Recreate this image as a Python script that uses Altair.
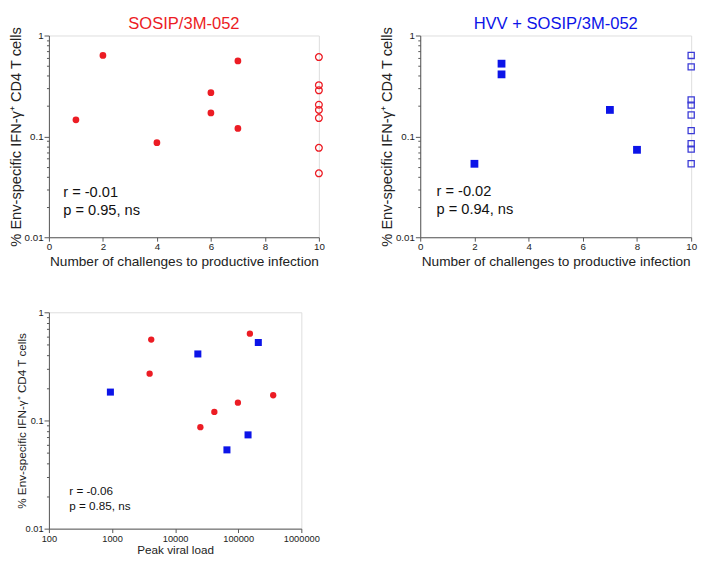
import altair as alt
import pandas as pd

# ---------------- data ----------------
# Panel 1: SOSIP/3M-052 — infected (filled) and uninfected after 10 challenges (open)
sosip_inf_challenges = [1, 2, 4, 6, 6, 7, 7]
sosip_inf_ifng = [0.146, 0.634, 0.0867, 0.271, 0.171, 0.560, 0.120]
sosip_uninf_challenges = [10, 10, 10, 10, 10, 10, 10, 10]
sosip_uninf_ifng = [0.611, 0.322, 0.286, 0.206, 0.183, 0.152, 0.077, 0.043]

# Panel 2: HVV + SOSIP/3M-052
hvv_inf_challenges = [2, 3, 3, 7, 8]
hvv_inf_ifng = [0.0535, 0.526, 0.412, 0.183, 0.0736]
hvv_uninf_challenges = [10, 10, 10, 10, 10, 10, 10, 10, 10]
hvv_uninf_ifng = [0.635, 0.489, 0.230, 0.204, 0.163, 0.114, 0.0847, 0.0748, 0.0535]

# Panel 3: peak viral load vs response
sosip_peak_vl = [4180, 3940, 153000, 358000, 98800, 41800, 25100]
sosip_peak_ifng = [0.560, 0.271, 0.634, 0.171, 0.146, 0.120, 0.0867]
hvv_peak_vl = [942, 22900, 208000, 143000, 66200]
hvv_peak_ifng = [0.183, 0.412, 0.526, 0.0736, 0.0535]

# stats annotations
stats1 = ["r = -0.01", "p = 0.95, ns"]
stats2 = ["r = -0.02", "p = 0.94, ns"]
stats3 = ["r = -0.06", "p = 0.85, ns"]

titles = ["SOSIP/3M-052", "HVV + SOSIP/3M-052"]
y_title = "% Env-specific IFN-γ⁺ CD4 T cells"
x_title_challenges = "Number of challenges to productive infection"
x_title_vl = "Peak viral load"

y_tick_values = [0.01, 0.02, 0.03, 0.04, 0.05, 0.06, 0.07, 0.08, 0.09,
                 0.1, 0.2, 0.3, 0.4, 0.5, 0.6, 0.7, 0.8, 0.9, 1]
x_tick_challenges = [0, 2, 4, 6, 8, 10]
x_tick_vl = [100, 1000, 10000, 100000, 1000000]

# ---------------- styling ----------------
FONT = "Liberation Sans"
RED = "#ec1c24"
BLUE = "#0c14e8"
BLUE_OPEN = "#3a3ad6"
AX = "#555555"
TXT = "#222222"

MAJOR_TEST = "datum.value == 1 || datum.value == 0.1 || datum.value == 0.01"


def y_axis(title_size, label_size, title_pad):
    return alt.Axis(
        title=y_title, values=y_tick_values,
        labelExpr="datum.value == 1 ? '1' : datum.value == 0.1 ? '0.1' : datum.value == 0.01 ? '0.01' : ''",
        tickSize={"condition": {"test": MAJOR_TEST, "value": 5}, "value": 2.5},
        labelOverlap=False, grid=False, domainColor=AX, tickColor=AX,
        labelColor=TXT, labelFont=FONT, labelFontSize=label_size, labelPadding=1,
        titleFont=FONT, titleFontSize=title_size, titleFontWeight="normal",
        titleColor=TXT, titlePadding=title_pad,
    )


def x_axis(title, values, label_size, title_size, title_pad, fmt=None):
    kw = dict(
        title=title, values=values, grid=False, domainColor=AX, tickColor=AX,
        tickSize=4, labelColor=TXT, labelFont=FONT, labelFontSize=label_size,
        labelPadding=1, labelOverlap=False, labelFlush=False,
        titleFont=FONT, titleFontSize=title_size, titleFontWeight="normal",
        titleColor=TXT, titlePadding=title_pad,
    )
    if fmt:
        kw["format"] = fmt
    return alt.Axis(**kw)


y_scale = alt.Scale(type="log", domain=[0.01, 1], nice=False)
x_scale_ch = alt.Scale(domain=[0, 10], nice=False, zero=False)
x_scale_vl = alt.Scale(type="log", domain=[100, 1000000], nice=False)


def stats_layer(lines, xs, ys, size):
    df = pd.DataFrame({"x": xs, "y": ys, "t": lines})
    return alt.Chart(df).mark_text(
        align="left", baseline="middle", font=FONT, fontSize=size, color="#111111"
    ).encode(x="x:Q", y="y:Q", text="t:N")


# ---------------- panel 1 ----------------
df1a = pd.DataFrame({"x": sosip_inf_challenges, "y": sosip_inf_ifng})
df1b = pd.DataFrame({"x": sosip_uninf_challenges, "y": sosip_uninf_ifng})

p1 = alt.layer(
    alt.Chart(df1a).mark_point(shape="circle", filled=True, color=RED, size=48, opacity=1).encode(
        x=alt.X("x:Q", scale=x_scale_ch, axis=x_axis(x_title_challenges, x_tick_challenges, 10, 14, 3)),
        y=alt.Y("y:Q", scale=y_scale, axis=y_axis(15, 10, 1)),
    ),
    alt.Chart(df1b).mark_point(shape="circle", filled=False, color=RED, size=48,
                               strokeWidth=1.3, opacity=1).encode(x="x:Q", y="y:Q"),
    stats_layer(stats1, [0.53, 0.53], [0.0282, 0.0184], 15),
).properties(
    width=277, height=207,
    title=alt.TitleParams(titles[0], color=RED, font=FONT, fontSize=17,
                          fontWeight="normal", anchor="middle", offset=-7),
)

# ---------------- panel 2 ----------------
df2a = pd.DataFrame({"x": hvv_inf_challenges, "y": hvv_inf_ifng})
df2b = pd.DataFrame({"x": hvv_uninf_challenges, "y": hvv_uninf_ifng})

p2 = alt.layer(
    alt.Chart(df2a).mark_point(shape="square", filled=True, color=BLUE, size=64, opacity=1).encode(
        x=alt.X("x:Q", scale=x_scale_ch, axis=x_axis(x_title_challenges, x_tick_challenges, 10, 14, 3)),
        y=alt.Y("y:Q", scale=y_scale, axis=y_axis(15, 10, 1)),
    ),
    alt.Chart(df2b).mark_point(shape="square", filled=False, color=BLUE_OPEN, size=40,
                               strokeWidth=1.3, opacity=1).encode(x="x:Q", y="y:Q"),
    stats_layer(stats2, [0.6, 0.6], [0.0288, 0.0188], 15),
).properties(
    width=278, height=207,
    title=alt.TitleParams(titles[1], color=BLUE, font=FONT, fontSize=17,
                          fontWeight="normal", anchor="middle", offset=-7),
)

# ---------------- panel 3 ----------------
df3a = pd.DataFrame({"x": sosip_peak_vl, "y": sosip_peak_ifng})
df3b = pd.DataFrame({"x": hvv_peak_vl, "y": hvv_peak_ifng})

p3 = alt.layer(
    alt.Chart(df3a).mark_point(shape="circle", filled=True, color=RED, size=42, opacity=1).encode(
        x=alt.X("x:Q", scale=x_scale_vl, axis=x_axis(x_title_vl, x_tick_vl, 9.5, 12, 2, fmt="d")),
        y=alt.Y("y:Q", scale=y_scale, axis=y_axis(12, 9.5, -3)),
    ),
    alt.Chart(df3b).mark_point(shape="square", filled=True, color=BLUE, size=52, opacity=1).encode(
        x="x:Q", y="y:Q"),
    stats_layer(stats3, [210, 210], [0.0223, 0.0163], 12),
).properties(width=259, height=222)

top = alt.hconcat(p1, p2, spacing=55)
chart = alt.concat(top, p3, columns=1, spacing=38, align="none").properties(
    padding=0
).configure_view(stroke=None).configure(font=FONT)

chart.save("out.html", embed_options={"renderer": "svg", "actions": False})
